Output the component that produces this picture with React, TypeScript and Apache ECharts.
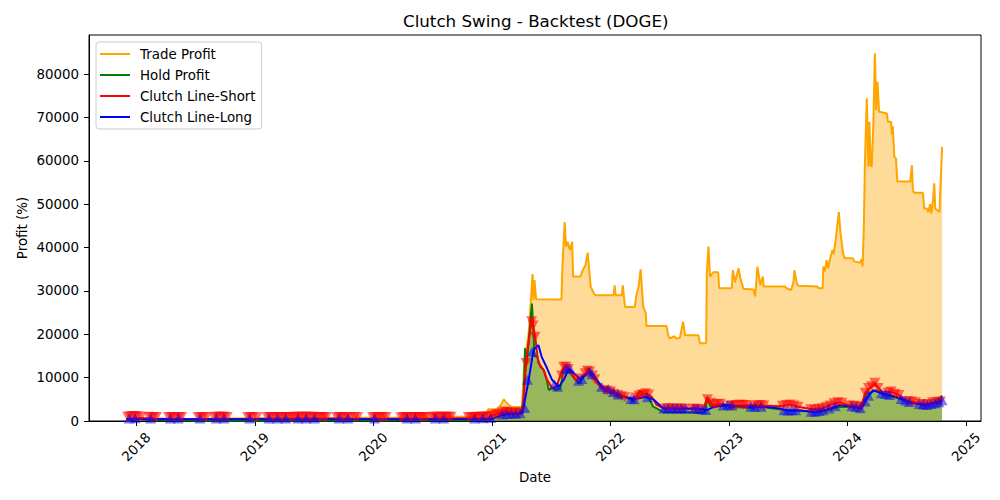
import React, { useEffect, useRef } from "react";
import * as echarts from "echarts";

const title = "Clutch Swing - Backtest (DOGE)";
const xTitle = "Date";
const yTitle = "Profit (%)";
const yTicks = [0, 10000, 20000, 30000, 40000, 50000, 60000, 70000, 80000];
const xMin = "2017-08-08";
const xMax = "2025-02-16";

const tradeProfit: [string, number][] = [
  ["2017-12-01", 0], ["2017-12-20", 150], ["2018-01-10", 400], ["2018-03-01", 300],
  ["2018-06-01", 420], ["2018-09-01", 550], ["2019-01-01", 650], ["2019-06-01", 700],
  ["2019-12-01", 760], ["2020-06-25", 800], ["2020-07-04", 1770], ["2020-07-12", 990],
  ["2020-11-05", 1000], ["2020-11-15", 1540], ["2020-12-14", 1500], ["2020-12-20", 2700],
  ["2021-01-15", 2700], ["2021-01-29", 3700], ["2021-02-06", 5000], ["2021-02-14", 4300],
  ["2021-02-21", 3700], ["2021-03-04", 3200], ["2021-04-03", 3200], ["2021-04-08", 9500],
  ["2021-04-13", 16400], ["2021-04-18", 17100], ["2021-04-24", 20300], ["2021-05-01", 27900],
  ["2021-05-06", 33900], ["2021-05-09", 27900], ["2021-05-12", 32500], ["2021-05-17", 28100],
  ["2021-08-03", 28000], ["2021-08-06", 35600], ["2021-08-13", 45900], ["2021-08-17", 40200],
  ["2021-08-22", 41300], ["2021-08-29", 39400], ["2021-09-05", 41300], ["2021-09-08", 33300],
  ["2021-10-01", 33300], ["2021-10-06", 34500], ["2021-10-16", 36000], ["2021-10-23", 38800],
  ["2021-11-01", 31000], ["2021-11-11", 29400], ["2021-11-16", 29000], ["2022-01-11", 29000],
  ["2022-01-14", 31300], ["2022-01-17", 29000], ["2022-02-05", 29000], ["2022-02-08", 31300],
  ["2022-02-15", 26300], ["2022-03-17", 26300], ["2022-03-22", 29000], ["2022-03-29", 31000],
  ["2022-04-04", 35000], ["2022-04-12", 26300], ["2022-04-20", 24800], ["2022-04-22", 21900],
  ["2022-06-23", 21900], ["2022-06-28", 19800], ["2022-07-03", 19000], ["2022-07-15", 19500],
  ["2022-07-25", 19000], ["2022-08-03", 19200], ["2022-08-13", 22900], ["2022-08-19", 19800],
  ["2022-09-29", 19800], ["2022-10-04", 17900], ["2022-10-23", 17900], ["2022-10-25", 34000],
  ["2022-10-30", 40200], ["2022-11-04", 33300], ["2022-11-14", 34300], ["2022-11-29", 34300],
  ["2022-12-02", 30600], ["2023-01-10", 30600], ["2023-01-13", 34800], ["2023-01-20", 32000],
  ["2023-01-31", 35200], ["2023-02-05", 33000], ["2023-02-15", 30500], ["2023-03-18", 30300],
  ["2023-03-23", 28700], ["2023-03-30", 35600], ["2023-04-08", 31300], ["2023-04-16", 33300],
  ["2023-04-18", 31000], ["2023-06-23", 31000], ["2023-06-28", 30600], ["2023-07-12", 30200],
  ["2023-07-19", 32000], ["2023-07-22", 34800], ["2023-07-29", 31800], ["2023-08-03", 31200],
  ["2023-10-01", 31000], ["2023-10-04", 30600], ["2023-10-17", 30600], ["2023-10-19", 35600],
  ["2023-10-24", 34500], ["2023-10-29", 37100], ["2023-11-03", 35200], ["2023-11-08", 37100],
  ["2023-11-16", 39400], ["2023-11-20", 38500], ["2023-11-26", 41700], ["2023-12-06", 48200],
  ["2023-12-11", 43300], ["2023-12-19", 38700], ["2023-12-24", 37500], ["2024-01-18", 37500],
  ["2024-01-22", 36800], ["2024-02-09", 36500], ["2024-02-14", 37300], ["2024-02-17", 35600],
  ["2024-02-21", 45000], ["2024-02-24", 58600], ["2024-03-01", 74400], ["2024-03-06", 58600],
  ["2024-03-09", 69000], ["2024-03-13", 59000], ["2024-03-16", 58600], ["2024-03-21", 67800],
  ["2024-03-26", 84800], ["2024-03-30", 71700], ["2024-04-03", 78200], ["2024-04-08", 71300],
  ["2024-05-02", 70900], ["2024-05-05", 69000], ["2024-05-15", 69000], ["2024-05-17", 66000],
  ["2024-05-20", 68000], ["2024-05-25", 60900], ["2024-05-30", 60500], ["2024-06-03", 55200],
  ["2024-07-13", 55200], ["2024-07-18", 59000], ["2024-07-21", 53200], ["2024-07-25", 52600],
  ["2024-08-21", 52600], ["2024-08-25", 49000], ["2024-09-02", 49000], ["2024-09-07", 48200],
  ["2024-09-12", 50000], ["2024-09-16", 47800], ["2024-09-21", 50900], ["2024-09-25", 54800],
  ["2024-09-28", 49000], ["2024-10-11", 48200], ["2024-10-19", 63200],
];

const holdProfit: [string, number][] = [
  ["2017-12-01", 0], ["2018-01-08", 500], ["2018-02-15", 150], ["2018-06-01", 100],
  ["2019-01-01", 80], ["2019-07-01", 200], ["2020-01-01", 100], ["2020-07-07", 250],
  ["2020-11-01", 200], ["2021-01-01", 400], ["2021-01-29", 1500], ["2021-02-08", 2300],
  ["2021-03-10", 1500], ["2021-04-01", 2000], ["2021-04-08", 5000], ["2021-04-13", 16800],
  ["2021-04-18", 13400], ["2021-04-28", 21700], ["2021-05-04", 27100], ["2021-05-09", 20200],
  ["2021-05-12", 15000], ["2021-05-20", 14800], ["2021-05-30", 12500], ["2021-06-09", 11800],
  ["2021-06-20", 9100], ["2021-06-25", 7100], ["2021-07-05", 7600], ["2021-07-18", 7100],
  ["2021-07-31", 7600], ["2021-08-10", 12500], ["2021-08-18", 12900], ["2021-08-31", 11000],
  ["2021-09-15", 9500], ["2021-09-25", 8700], ["2021-10-06", 9500], ["2021-10-26", 12100],
  ["2021-11-06", 11000], ["2021-11-21", 9500], ["2021-12-01", 7900], ["2021-12-17", 7000],
  ["2022-01-10", 6400], ["2022-01-31", 5400], ["2022-02-10", 5600], ["2022-03-03", 5000],
  ["2022-03-12", 4500], ["2022-04-02", 7000], ["2022-04-22", 5500], ["2022-05-03", 4800],
  ["2022-05-13", 3300], ["2022-06-13", 2100], ["2022-08-24", 2000], ["2022-10-04", 1900],
  ["2022-10-19", 2000], ["2022-10-27", 5600], ["2022-11-04", 3500], ["2022-11-25", 3600],
  ["2023-01-04", 3300], ["2023-03-17", 3000], ["2023-04-07", 3300], ["2023-05-08", 3000],
  ["2023-06-28", 2500], ["2023-10-09", 2100], ["2023-12-09", 3300], ["2024-02-08", 3100],
  ["2024-03-01", 6400], ["2024-04-01", 7100], ["2024-04-21", 6000], ["2024-05-22", 5600],
  ["2024-06-22", 4800], ["2024-07-13", 4200], ["2024-08-13", 4000], ["2024-09-12", 3700],
  ["2024-10-19", 5800],
];

const clutchShort: [string, number][] = [
  ["2017-12-01", 500], ["2018-01-10", 700], ["2018-03-01", 550], ["2018-06-01", 500],
  ["2019-01-01", 450], ["2019-07-01", 550], ["2020-01-01", 450], ["2020-07-01", 550],
  ["2020-12-15", 700], ["2021-01-01", 1200], ["2021-02-08", 2200], ["2021-03-10", 1800],
  ["2021-04-05", 2000], ["2021-04-18", 15000], ["2021-05-04", 23700], ["2021-05-14", 19400],
  ["2021-05-24", 13400], ["2021-06-09", 11800], ["2021-06-20", 9500], ["2021-07-05", 7600],
  ["2021-07-19", 7900], ["2021-08-05", 11800], ["2021-08-15", 12500], ["2021-08-31", 11400],
  ["2021-09-15", 9500], ["2021-10-01", 10000], ["2021-10-21", 11400], ["2021-11-06", 10500],
  ["2021-11-21", 8700], ["2021-12-12", 7100], ["2021-12-31", 6800], ["2022-01-21", 6000],
  ["2022-02-10", 5600], ["2022-03-03", 5200], ["2022-04-02", 5800], ["2022-04-22", 6400],
  ["2022-05-08", 5600], ["2022-05-23", 3700], ["2022-06-13", 2900], ["2022-08-03", 2800],
  ["2022-09-24", 2800], ["2022-10-14", 2700], ["2022-10-25", 5200], ["2022-11-14", 3700],
  ["2022-12-05", 3900], ["2023-01-14", 3500], ["2023-02-25", 3700], ["2023-04-07", 3600],
  ["2023-06-08", 3400], ["2023-07-09", 3800], ["2023-08-02", 3300], ["2023-09-15", 2700],
  ["2023-10-16", 2900], ["2023-11-21", 4000], ["2023-12-10", 4300], ["2024-01-08", 3600],
  ["2024-02-13", 3300], ["2024-02-25", 6500], ["2024-03-26", 8600], ["2024-04-15", 6800],
  ["2024-05-15", 6700], ["2024-06-08", 6000], ["2024-07-05", 4600], ["2024-07-29", 4300],
  ["2024-08-20", 3800], ["2024-09-20", 4200], ["2024-10-19", 5200],
];

const clutchLong: [string, number][] = [
  ["2017-12-01", 400], ["2018-06-01", 420], ["2019-06-01", 400], ["2020-06-01", 420],
  ["2020-12-15", 450], ["2021-01-01", 600], ["2021-02-08", 1500], ["2021-03-10", 1700],
  ["2021-04-05", 1800], ["2021-04-24", 9500], ["2021-05-09", 16400], ["2021-05-24", 17500],
  ["2021-06-03", 14800], ["2021-06-20", 12100], ["2021-07-05", 9500], ["2021-07-26", 7900],
  ["2021-08-10", 9500], ["2021-08-26", 12100], ["2021-09-10", 11000], ["2021-10-01", 9500],
  ["2021-10-26", 11400], ["2021-11-16", 9800], ["2021-12-06", 7900], ["2021-12-31", 7200],
  ["2022-01-31", 6000], ["2022-03-12", 5000], ["2022-04-22", 5600], ["2022-05-13", 5000],
  ["2022-06-13", 2900], ["2022-09-24", 2900], ["2022-10-25", 2500], ["2022-11-14", 3200],
  ["2022-12-26", 3700], ["2023-02-25", 3300], ["2023-04-18", 3300], ["2023-06-08", 2900],
  ["2023-06-28", 2400], ["2023-08-08", 2500], ["2023-09-18", 2100], ["2023-10-29", 2600],
  ["2023-12-09", 3700], ["2024-01-20", 3300], ["2024-02-14", 2900], ["2024-03-01", 5200],
  ["2024-03-21", 7100], ["2024-04-11", 6500], ["2024-05-11", 6000], ["2024-06-11", 5300],
  ["2024-07-02", 4500], ["2024-08-02", 4000], ["2024-09-02", 3700], ["2024-10-14", 4500],
  ["2024-10-19", 4800],
];

const shortSignals: [string, number][] = [
  ["2017-12-05", 1000], ["2017-12-12", 1100], ["2017-12-20", 1150], ["2017-12-28", 1150], ["2018-01-05", 1100], ["2018-01-15", 1000],
  ["2018-02-08", 1000], ["2018-02-16", 950], ["2018-02-24", 950], ["2018-03-04", 900],
  ["2018-04-10", 900], ["2018-04-18", 900], ["2018-04-26", 900], ["2018-05-05", 950], ["2018-05-14", 900], ["2018-05-20", 900],
  ["2018-07-10", 900], ["2018-07-18", 900], ["2018-07-26", 900], ["2018-08-05", 900],
  ["2018-08-28", 950], ["2018-09-06", 1000], ["2018-09-14", 1050], ["2018-09-22", 1000], ["2018-09-30", 1000], ["2018-10-08", 950],
  ["2018-12-10", 900], ["2018-12-18", 900], ["2018-12-26", 900], ["2019-01-08", 900],
  ["2019-02-08", 900], ["2019-02-16", 900], ["2019-02-24", 900], ["2019-03-05", 900], ["2019-03-14", 950], ["2019-03-22", 950],
  ["2019-03-30", 950], ["2019-04-08", 950], ["2019-04-16", 950],
  ["2019-04-25", 950], ["2019-05-04", 1000], ["2019-05-12", 1000], ["2019-05-20", 1000], ["2019-05-28", 1000], ["2019-06-05", 1000],
  ["2019-06-13", 1000], ["2019-06-21", 1000], ["2019-06-29", 1000], ["2019-07-08", 950], ["2019-07-16", 950], ["2019-07-24", 950],
  ["2019-08-02", 950], ["2019-08-10", 950],
  ["2019-09-10", 900], ["2019-09-18", 900], ["2019-09-26", 900], ["2019-10-05", 900], ["2019-10-13", 900], ["2019-10-22", 900],
  ["2019-11-05", 900], ["2019-11-14", 900],
  ["2019-12-30", 900], ["2020-01-07", 900], ["2020-01-15", 900], ["2020-01-23", 950], ["2020-02-01", 950], ["2020-02-10", 950],
  ["2020-03-26", 850], ["2020-04-03", 900], ["2020-04-11", 900], ["2020-04-19", 900], ["2020-04-27", 950], ["2020-05-05", 950],
  ["2020-05-13", 950], ["2020-05-21", 950], ["2020-05-29", 950], ["2020-06-06", 950], ["2020-06-14", 950],
  ["2020-07-03", 1000], ["2020-07-11", 1000], ["2020-07-19", 1000], ["2020-07-27", 1000], ["2020-08-04", 1000], ["2020-08-12", 1000],
  ["2020-08-20", 1000], ["2020-08-28", 1000],
  ["2020-10-20", 900], ["2020-10-28", 950], ["2020-11-05", 950], ["2020-11-13", 1000], ["2020-11-21", 1000], ["2020-11-29", 1000],
  ["2020-12-07", 1000], ["2020-12-15", 1050], ["2020-12-23", 1100], ["2021-01-05", 1300], ["2021-01-14", 1500], ["2021-01-22", 1600],
  ["2021-02-01", 1900], ["2021-02-09", 2200], ["2021-02-17", 2100], ["2021-02-25", 2000], ["2021-03-05", 1800], ["2021-03-13", 1850],
  ["2021-03-21", 1900], ["2021-03-29", 2000],
  ["2021-04-16", 13400], ["2021-05-03", 23000], ["2021-05-08", 22000], ["2021-05-14", 19400],
  ["2021-08-03", 10500], ["2021-08-10", 12500], ["2021-08-17", 12500], ["2021-08-24", 12000],
  ["2021-09-22", 9800],
  ["2021-10-15", 11000], ["2021-10-22", 11600], ["2021-10-29", 11400], ["2021-11-06", 10500], ["2021-11-14", 9600],
  ["2021-12-12", 7100], ["2021-12-22", 7000], ["2022-01-01", 6800], ["2022-01-12", 6300], ["2022-01-24", 6000],
  ["2022-02-05", 5700], ["2022-02-15", 5500],
  ["2022-03-20", 5400], ["2022-03-30", 5900], ["2022-04-09", 6100], ["2022-04-19", 6400], ["2022-04-29", 6100],
  ["2022-06-18", 2900], ["2022-06-28", 2950], ["2022-07-08", 2900], ["2022-07-18", 2850], ["2022-07-28", 2900],
  ["2022-08-07", 2900], ["2022-08-17", 2850],
  ["2022-09-12", 2800], ["2022-09-22", 2800], ["2022-10-02", 2750],
  ["2022-10-27", 5000], ["2022-11-06", 4200], ["2022-11-16", 3800], ["2022-11-26", 3900], ["2022-12-06", 4000],
  ["2023-01-05", 3600], ["2023-01-15", 3600], ["2023-01-25", 3700], ["2023-02-05", 3800], ["2023-02-15", 3700],
  ["2023-02-25", 3700],
  ["2023-03-20", 3400], ["2023-03-30", 3700], ["2023-04-09", 3700], ["2023-04-19", 3600],
  ["2023-06-15", 3500], ["2023-06-27", 3700], ["2023-07-09", 3800], ["2023-07-21", 3600], ["2023-08-02", 3300],
  ["2023-09-10", 2700], ["2023-09-22", 2600], ["2023-10-04", 2800], ["2023-10-16", 2900], ["2023-10-28", 3200],
  ["2023-11-09", 3600], ["2023-11-21", 4100], ["2023-12-03", 4300], ["2023-12-15", 4200],
  ["2024-01-08", 3600], ["2024-01-20", 3500], ["2024-02-01", 3400], ["2024-02-13", 3300],
  ["2024-02-25", 6500], ["2024-03-06", 7600], ["2024-03-16", 8000], ["2024-03-26", 8800], ["2024-04-05", 7600],
  ["2024-05-05", 6600], ["2024-05-15", 6800], ["2024-05-27", 6300], ["2024-06-08", 6000],
  ["2024-07-05", 4600], ["2024-07-17", 4500], ["2024-07-29", 4300],
  ["2024-08-15", 3900], ["2024-08-27", 3800], ["2024-09-08", 3900], ["2024-09-20", 4300], ["2024-10-02", 4400],
  ["2024-10-14", 4500],
];

const longSignals: [string, number][] = [
  ["2017-12-10", 600], ["2017-12-28", 650], ["2018-02-14", 600], ["2018-04-16", 550], ["2018-05-10", 550],
  ["2018-07-16", 550], ["2018-09-04", 600], ["2018-09-28", 600], ["2018-12-16", 550], ["2019-02-14", 550],
  ["2019-03-12", 550], ["2019-04-06", 600], ["2019-05-14", 600], ["2019-06-08", 600], ["2019-07-04", 600],
  ["2019-09-18", 550], ["2019-10-15", 550], ["2020-01-05", 550], ["2020-04-14", 550], ["2020-05-10", 600],
  ["2020-07-10", 600], ["2020-08-05", 600], ["2020-11-08", 600], ["2020-12-04", 650], ["2020-12-28", 700],
  ["2021-02-01", 1500], ["2021-02-15", 1600], ["2021-03-01", 1700], ["2021-03-15", 1700], ["2021-03-29", 1800],
  ["2021-04-12", 3000], ["2021-04-20", 9500], ["2021-05-05", 16000],
  ["2021-07-12", 8400], ["2021-07-22", 7900], ["2021-08-18", 12000], ["2021-08-28", 12200],
  ["2021-09-25", 9300], ["2021-10-05", 9700], ["2021-10-28", 11400], ["2021-11-05", 10800],
  ["2021-12-05", 7900], ["2021-12-25", 7400], ["2022-01-10", 6700], ["2022-01-25", 6100],
  ["2022-03-05", 5100], ["2022-03-15", 5000], ["2022-04-25", 5500],
  ["2022-06-15", 2900], ["2022-06-28", 2900], ["2022-07-12", 2900], ["2022-07-25", 2900], ["2022-08-08", 2900],
  ["2022-08-20", 2900], ["2022-09-15", 2900], ["2022-09-28", 2850], ["2022-10-10", 2700], ["2022-10-22", 2550],
  ["2022-12-15", 3600], ["2022-12-28", 3700], ["2023-01-10", 3600], ["2023-03-10", 3300], ["2023-03-22", 3300],
  ["2023-04-10", 3300], ["2023-06-20", 2500], ["2023-07-02", 2400], ["2023-07-14", 2450], ["2023-07-26", 2500],
  ["2023-09-12", 2150], ["2023-09-24", 2150], ["2023-10-06", 2300], ["2023-10-18", 2500], ["2023-11-05", 2900],
  ["2023-11-25", 3400], ["2024-01-15", 3400], ["2024-01-28", 3200], ["2024-02-10", 2950], ["2024-02-25", 4500],
  ["2024-03-06", 5800], ["2024-04-15", 6400], ["2024-04-28", 6200], ["2024-05-10", 6000], ["2024-06-15", 5100],
  ["2024-06-28", 4700], ["2024-07-10", 4400], ["2024-08-10", 3900], ["2024-08-22", 3800], ["2024-09-03", 3700],
  ["2024-09-15", 3900], ["2024-09-27", 4100], ["2024-10-09", 4300], ["2024-10-19", 4800],
];

const FONT = "DejaVu Sans";

export default function App() {
  const ref = useRef<HTMLDivElement>(null);
  useEffect(() => {
    if (!ref.current) return;
    const chart = echarts.init(ref.current, null, { renderer: "svg" });
    chart.setOption({
      animation: false,
      backgroundColor: "#ffffff",
      textStyle: { fontFamily: FONT },
      grid: { left: 89, right: 19, top: 35, bottom: 79, show: true, borderColor: "#000", borderWidth: 1, containLabel: false },
      legend: {
        data: ["Trade Profit", "Hold Profit", "Clutch Line-Short", "Clutch Line-Long"],
        orient: "vertical",
        left: 96,
        top: 42,
        icon: "rect",
        itemWidth: 30,
        itemHeight: 2,
        itemGap: 7,
        padding: [5, 6, 5, 4],
        backgroundColor: "rgba(255,255,255,0.8)",
        borderColor: "#cccccc",
        borderWidth: 1,
        borderRadius: 3,
        textStyle: { fontFamily: FONT, fontSize: 13.4, color: "#000", lineHeight: 14, padding: [0, 0, 0, 5] },
      },
      xAxis: {
        type: "time",
        min: xMin,
        max: xMax,
        splitNumber: 8,
        minInterval: 365 * 24 * 3600 * 1000,
        splitLine: { show: false },
        axisLine: { lineStyle: { color: "#000", width: 1 } },
        axisTick: { length: 5, lineStyle: { color: "#000" } },
        axisLabel: {
          rotate: 45,
          align: "center",
          verticalAlign: "middle",
          margin: 26,
          fontFamily: FONT,
          fontSize: 13.4,
          color: "#000",
          formatter: (v: number) => String(new Date(v).getFullYear()),
        },
      },
      yAxis: {
        type: "value",
        min: yTicks[0],
        max: 89000,
        interval: yTicks[1] - yTicks[0],
        splitLine: { show: false },
        axisLine: { show: true, lineStyle: { color: "#000", width: 1 } },
        axisTick: { show: true, length: 5, lineStyle: { color: "#000" } },
        axisLabel: {
          margin: 10, fontFamily: FONT, fontSize: 13.4, color: "#000", showMaxLabel: false,
          formatter: (v: number) => (yTicks.indexOf(v) >= 0 ? String(v) : ""),
        },
      },
      graphic: [
        { type: "text", left: 535 - 132, top: 12, style: { text: title, fontFamily: FONT, fontSize: 16.7, fill: "#000" } },
        { type: "text", x: 535, y: 477, style: { text: xTitle, fontFamily: FONT, fontSize: 13.4, fill: "#000", align: "center", verticalAlign: "middle" } },
        { type: "text", x: 22, y: 228, rotation: Math.PI / 2, style: { text: yTitle, fontFamily: FONT, fontSize: 13.4, fill: "#000", align: "center", verticalAlign: "middle" } },
      ],
      series: [
        {
          name: "Trade Profit", type: "line", data: tradeProfit, showSymbol: false, z: 2,
          lineStyle: { color: "#FFA500", width: 2 }, itemStyle: { color: "#FFA500" },
          areaStyle: { color: "rgba(255,165,0,0.4)", opacity: 1 },
        },
        {
          name: "Hold Profit", type: "line", data: holdProfit, showSymbol: false, z: 3,
          lineStyle: { color: "#008000", width: 2 }, itemStyle: { color: "#008000" },
          areaStyle: { color: "rgba(0,128,0,0.4)", opacity: 1 },
        },
        {
          name: "Clutch Line-Short", type: "line", data: clutchShort, showSymbol: false, z: 4,
          lineStyle: { color: "#FF0000", width: 2 }, itemStyle: { color: "#FF0000" },
        },
        {
          name: "Clutch Line-Long", type: "line", data: clutchLong, showSymbol: false, z: 5,
          lineStyle: { color: "#0000FF", width: 2 }, itemStyle: { color: "#0000FF" },
        },
        {
          name: "Short Signal", type: "scatter", data: shortSignals, z: 6,
          symbol: "triangle", symbolRotate: 180, symbolSize: [11, 10],
          itemStyle: { color: "rgba(255,0,0,0.55)", opacity: 1 },
        },
        {
          name: "Long Signal", type: "scatter", data: longSignals, z: 7,
          symbol: "triangle", symbolSize: [11, 10],
          itemStyle: { color: "rgba(0,0,255,0.5)", opacity: 1 },
        },
      ],
    });
    return () => chart.dispose();
  }, []);
  return <div ref={ref} style={{ position: "fixed", left: 0, top: 0, width: 1000, height: 500 }} />;
}
